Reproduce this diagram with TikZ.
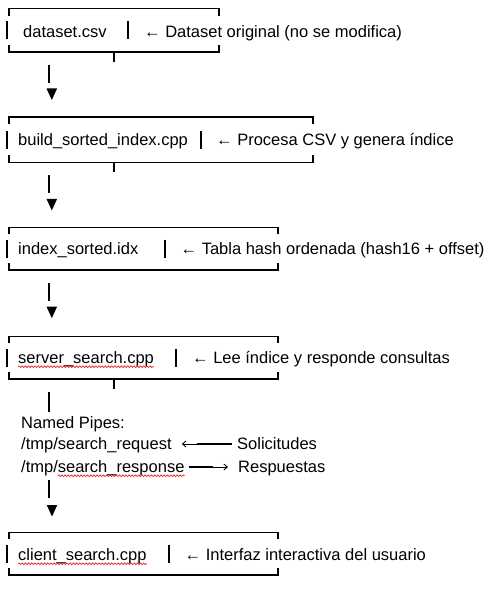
\documentclass[tikz,border=0pt]{standalone}
\usepackage{fontspec}
\setmainfont{Liberation Sans}
\usetikzlibrary{calc,arrows.meta,decorations.pathmorphing}

\begin{document}
\begin{tikzpicture}[x=1pt, y=-1pt, >={Straight Barb[length=3.5pt,width=6pt]}]

\definecolor{spellred}{RGB}{225, 40, 40}

% Page area
\fill[white] (0,0) rectangle (495,590);
\useasboundingbox (0,0) rectangle (495,590);

\tikzset{
    box/.style={
        rectangle, inner sep=0pt, minimum height=43pt
    },
    txt/.style={
        anchor=base west, inner sep=0pt, text=black,
        font=\fontsize{16.5}{20}\selectfont
    },
    boxline/.style={line width=1.8pt},
    bar/.style={line width=1.4pt},
    stem/.style={line width=1.5pt},
    wire/.style={line width=2.3pt},
    thinwire/.style={line width=0.9pt, ->},
    squiggle/.style={
        spellred, line width=0.7pt, decorate,
        decoration={snake, amplitude=0.9pt, segment length=3.2pt}
    },
    down tip/.pic={\fill (-5.3,0) -- (5.3,0) -- (0,11.5) -- cycle;}
}

% --- BOXES ---
\node[box, minimum width=210pt] (dataset) at (114,30.25) {};
\node[box, minimum width=304pt, minimum height=45pt] (builder) at (161,139.7) {};
\node[box, minimum width=269pt, minimum height=42.3pt] (index) at (143.5,248.8) {};
\node[box, minimum width=269pt, minimum height=42.3pt] (server) at (143.5,357.8) {};
\node[box, minimum width=269pt, minimum height=42.3pt] (client) at (143.5,553.8) {};

\foreach \b in {dataset, builder, index, server, client} {
    \draw[boxline] ($(\b.north west)+(0,7)$) -- (\b.north west) -- (\b.north east) -- ($(\b.north east)+(0,7)$);
    \draw[boxline] ($(\b.south west)+(0,-7)$) -- (\b.south west) -- (\b.south east) -- ($(\b.south east)+(0,-7)$);
}
\foreach \b in {dataset, builder, server}
    \draw[boxline] ($(\b.south west)+(105,0)$) -- ++(0,10);

\foreach \b/\x in {dataset/128, builder/201, index/165, server/176, client/169} {
    \draw[bar] (7,0 |- \b.center) ++(0,-9) -- ++(0,18);
    \draw[bar] (\x,0 |- \b.center) ++(0,-9) -- ++(0,18);
}

% --- TEXTS ---
\node[txt] (datasetname) at (23,37) {dataset.csv};
\node[txt] (datasetnote) at (144,37) {← Dataset original (no se modifica)};
\node[txt] (buildername) at (18,145) {build\_sorted\_index.cpp};
\node[txt] (buildernote) at (216,145) {← Procesa CSV y genera índice};
\node[txt] (indexname) at (18,254) {index\_sorted.idx};
\node[txt] (indexnote) at (180.5,254) {← Tabla hash ordenada (hash16 + offset)};
\node[txt] (servername) at (18,363) {server\_search.cpp};
\node[txt] (servernote) at (192,363) {← Lee índice y responde consultas};
\node[txt] (clientname) at (18,560) {client\_search.cpp};
\node[txt] (clientnote) at (184.5,560) {← Interfaz interactiva del usuario};

% Named pipes
\node[txt] (pipes) at (21,428) {Named Pipes:};
\node[txt] (request) at (21,449) {/tmp/search\_request};
\node[txt] (solicitudes) at (237,449) {Solicitudes};
\node[txt] (response) at (21,472) {/tmp/search\_response};
\node[txt] (respuestas) at (238,472) {Respuestas};

\draw[thinwire] ($(request.base east)+(25,-5)$) -- ($(request.base east)+(10,-5)$);
\draw[wire] ($(request.base east)+(25,-5)$) -- ($(solicitudes.base west)+(-5,-5)$);
\draw[wire] ($(response.base east)+(4,-5)$) -- ($(respuestas.base west)+(-25,-5)$);
\draw[thinwire] ($(respuestas.base west)+(-25,-5)$) -- ($(respuestas.base west)+(-10,-5)$);

% --- DOWN ARROWS ---
\foreach \b in {dataset, builder, index} {
    \draw[stem] ($(\b.south west)+(40,13)$) -- ++(0,18);
    \pic at ($(\b.south west)+(43,36.5)$) {down tip};
}
\draw[stem] ($(server.south west)+(40,13)$) -- ++(0,20);
\draw[stem] ($(response.base west)+(28,8)$) -- ++(0,18);
\pic at ($(response.base west)+(31,33)$) {down tip};

% Spell check marks
\draw[squiggle] ($(servername.base west)+(0,3.7)$) -- ($(servername.base east)+(0,3.7)$);
\draw[squiggle] ($(response.base west)+(36.7,3.7)$) -- ($(response.base east)+(0,3.7)$);
\draw[squiggle] ($(clientname.base west)+(0,3.7)$) -- ($(clientname.base east)+(0,3.7)$);

\end{tikzpicture}
\end{document}
